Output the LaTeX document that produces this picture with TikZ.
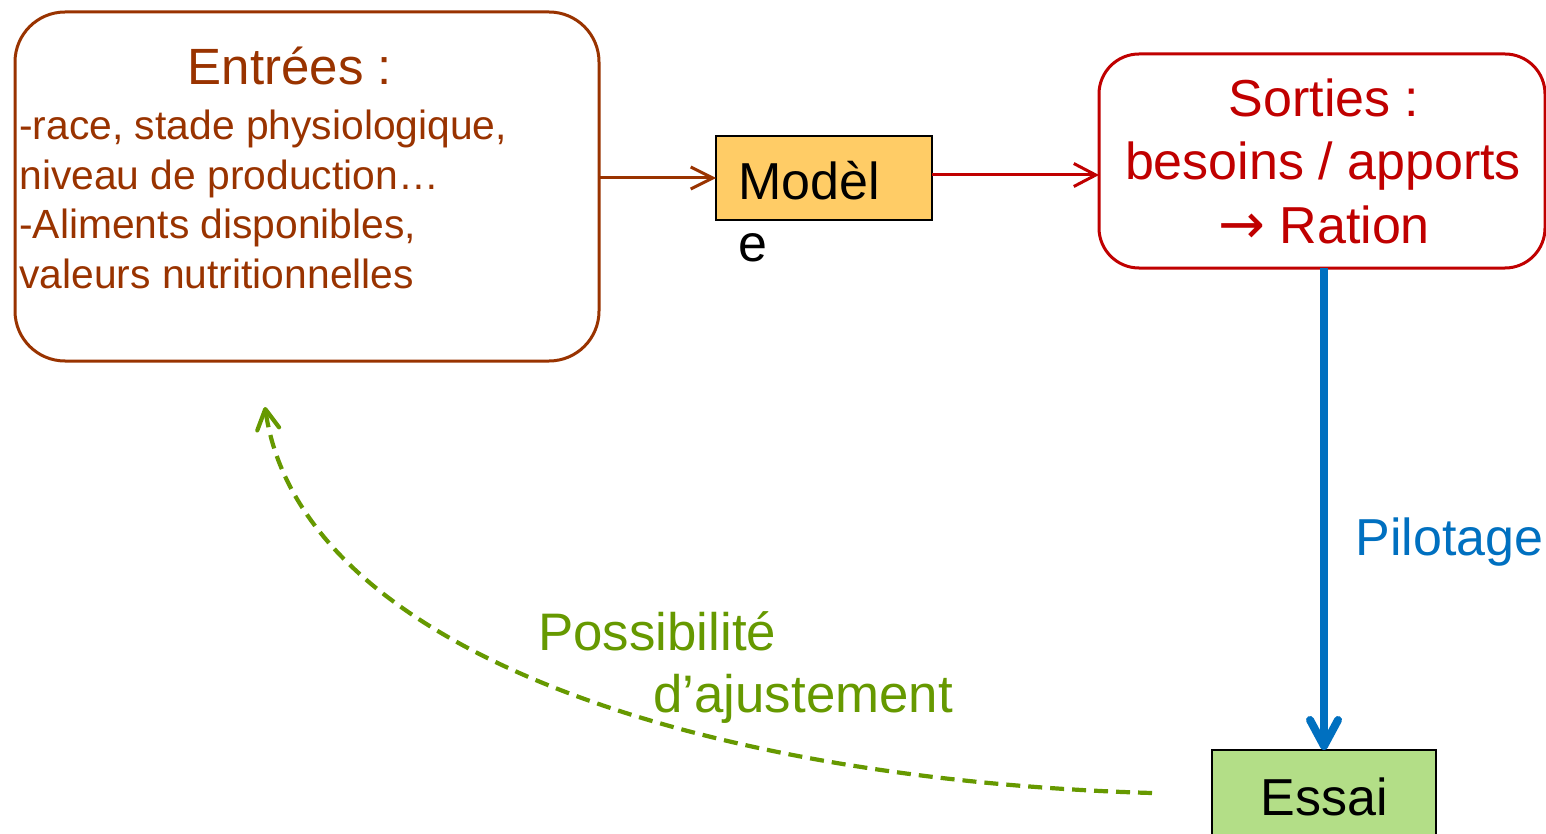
\documentclass[tikz,border=0pt]{standalone}
\usepackage{fontspec}
\setmainfont{Liberation Sans}
\newfontfamily\arrowfont{DejaVu Sans}
\usetikzlibrary{arrows.meta}
\definecolor{brn}{HTML}{993300}
\definecolor{redc}{HTML}{C00000}
\definecolor{bluec}{HTML}{0070C0}
\definecolor{greenc}{HTML}{669900}
\definecolor{modfill}{HTML}{FFCC66}
\definecolor{essfill}{HTML}{B3DE87}
\begin{document}
\begin{tikzpicture}[x=0.5pt,y=-0.5pt,
  box/.style={inner sep=0pt, outer sep=0pt},
  big/.style={inner sep=0pt, anchor=base, font=\fontsize{26}{31}\selectfont},
  small/.style={inner sep=0pt, anchor=base west, font=\fontsize{20.4}{24}\selectfont, text=brn},
  bigl/.style={inner sep=0pt, anchor=base west, font=\fontsize{26}{31}\selectfont}]
\clip (0,0) rectangle (1546,834);
\fill[white] (0,0) rectangle (1546,834);
% boxes
\node[box, draw=brn, line width=1.5pt, rounded corners=25pt,
  minimum width=292pt, minimum height=174.5pt] (entrees) at (307,186.5) {};
\node[box, draw=black, line width=1.2pt, fill=modfill,
  minimum width=108pt, minimum height=42pt] (model) at (824,178) {};
\node[box, draw=redc, line width=1.5pt, rounded corners=20pt,
  minimum width=223pt, minimum height=107pt] (sorties) at (1322,161) {};
\node[box, draw=black, line width=1.2pt, fill=essfill,
  minimum width=112pt, minimum height=50pt] (essai) at (1324,800) {};
% texts
\node[big, text=brn, font=\fontsize{25.5}{31}\selectfont] (t1) at (290,85) {Entrées :};
\node[small] (l1) at (19,140) {-race, stade physiologique,};
\node[small] (l2) at (19,190) {niveau de production…};
\node[small] (l3) at (19,239) {-Aliments disponibles,};
\node[small] (l4) at (19,288) {valeurs nutritionnelles};
\node[bigl] (m1) at (738,200) {Modèl};
\node[bigl] (m2) at (738,262) {e};
\node[big, text=redc] (s1) at (1324,117) {Sorties :};
\node[big, text=redc] (s2) at (1323,180) {besoins / apports};
\node[big, text=redc] (s3) at (1324,243) {{\arrowfont\fontsize{28}{31}\selectfont →} Ration};
\node[big] (e1) at (1324,815) {Essai};
\node[bigl, text=bluec] (p1) at (1355,555) {Pilotage};
\node[bigl, text=greenc, font=\fontsize{26.4}{31}\selectfont] (g1) at (538,650) {Possibilité};
\node[bigl, text=greenc, font=\fontsize{26.4}{31}\selectfont] (g2) at (653,712) {d’ajustement};
% connectors
\draw[brn, line width=1.5pt, -{Straight Barb[length=11pt,width=11pt]}]
  (entrees.east |- model.west) -- (model.west);
\coordinate (mright) at ([yshift=1.5pt]model.east);
\draw[redc, line width=1.5pt, -{Straight Barb[length=11pt,width=11.5pt]}]
  (mright) -- (sorties.west |- mright);
\draw[bluec, line width=4pt, -{Straight Barb[length=13pt,width=14pt,round]}]
  (essai.north |- sorties.south) -- (essai.north);
\coordinate (gstart) at (1152,793);
\coordinate (gend) at (265,407);
\draw[greenc, line width=2.1pt, dash pattern=on 7pt off 4pt,
  -{Straight Barb[length=10pt,width=11pt,round]}]
  (gstart) .. controls (700,780) and (300,650) .. (gend);
\end{tikzpicture}
\end{document}
